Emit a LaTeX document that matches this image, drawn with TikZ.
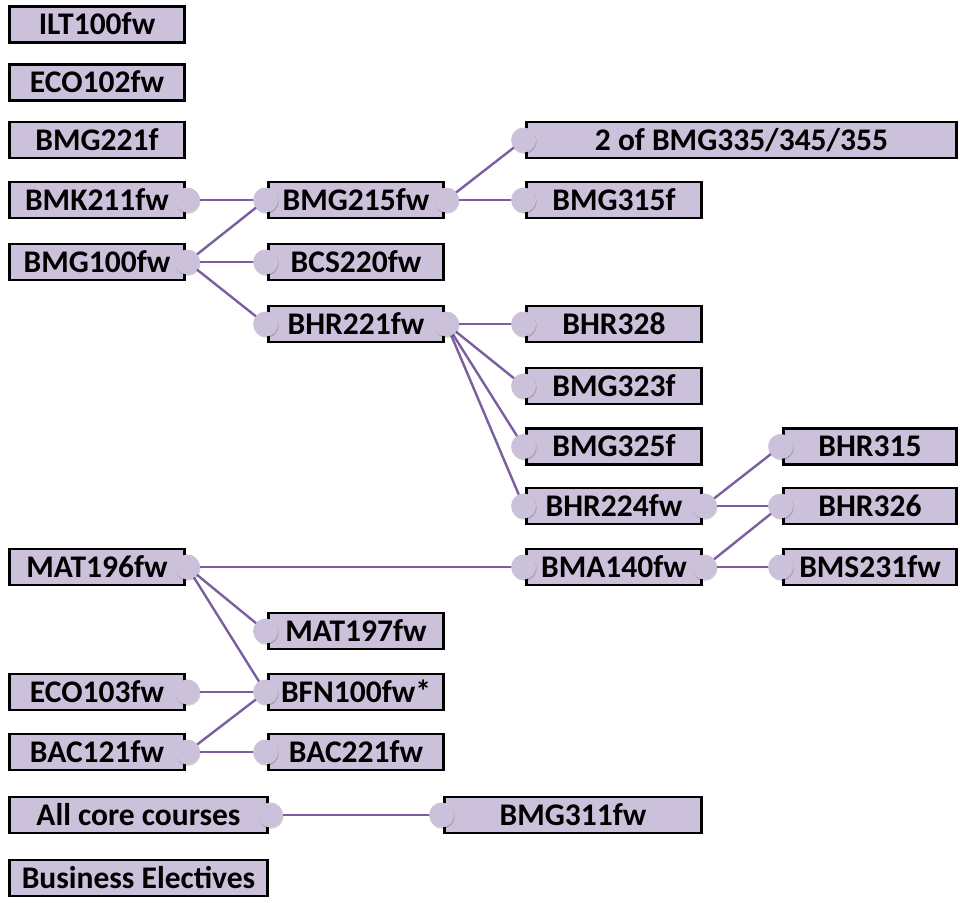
\documentclass[tikz,border=0pt]{standalone}
\usepackage{fontspec}
\setmainfont{Carlito}
\definecolor{boxfill}{RGB}{204,193,218}
\definecolor{linkcol}{RGB}{122,94,160}
\pgfdeclarelayer{bg}
\pgfsetlayers{bg,main}
\begin{document}
\begin{tikzpicture}[x=1pt,y=-1pt,
  font=\fontsize{31.5}{36}\selectfont\bfseries,
  course/.style={draw=black, line width=2.8pt, fill=boxfill, minimum height=36pt,
    inner sep=0pt, text height=20pt, text depth=0pt},
  cA/.style={course, minimum width=175pt},
  cW/.style={course, minimum width=258pt},
  cB/.style={course, minimum width=175pt},
  cC/.style={course, minimum width=175pt},
  cD/.style={course, minimum width=173pt},
  dot/.style={circle, fill=boxfill, minimum size=25pt, inner sep=0pt,
    preaction={fill=black, opacity=0.18, transform canvas={shift={(0.6pt,-1.3pt)}}}},
  link/.style={draw=linkcol, line width=2.4pt}]
\useasboundingbox (0,0) rectangle (960,902);

% column 1
\node[cA] (ilt)    at (97,24.5) {ILT100fw};
\node[cA] (eco102) at (97,82.5) {ECO102fw};
\node[cA] (bmg221) at (97,140)  {BMG221f};
\node[cA] (bmk211) at (97,200)  {BMK211fw};
\node[cA] (bmg100) at (97,262)  {BMG100fw};
\node[cA] (mat196) at (97,567)  {MAT196fw};
\node[cA] (eco103) at (97,692)  {ECO103fw};
\node[cA] (bac121) at (97,752)  {BAC121fw};
\node[cW] (allcore) at (138.5,815) {All core courses};
\node[cW] (electives) at (138.5,878) {Business Electives};

% column 2
\node[cB] (bmg215) at (356,200) {BMG215fw};
\node[cB] (bcs220) at (356,262) {BCS220fw};
\node[cB] (bhr221) at (356,324) {BHR221fw};
\node[cB] (mat197) at (356,631) {MAT197fw};
\node[cB] (bfn100) at (356,692) {BFN100fw*};
\node[cB] (bac221) at (356,752) {BAC221fw};

% column 3
\node[course, minimum width=430pt] (twoof) at (741.5,140) {2 of BMG335/345/355};
\node[cC] (bmg315) at (614,200) {BMG315f};
\node[cC] (bhr328) at (614,324) {BHR328};
\node[cC] (bmg323) at (614,386) {BMG323f};
\node[cC] (bmg325) at (614,446.5) {BMG325f};
\node[cC] (bhr224) at (614,506) {BHR224fw};
\node[cC] (bma140) at (614,567) {BMA140fw};
\node[course, minimum width=257pt] (bmg311) at (573,815) {BMG311fw};

% column 4
\node[cD] (bhr315) at (870,446.5) {BHR315};
\node[cD] (bhr326) at (870,506) {BHR326};
\node[cD] (bms231) at (870,567) {BMS231fw};

% connector dots
\foreach \n in {bmk211,bmg100,bmg215,bhr221,bhr224,bma140,mat196,eco103,bac121,allcore}
  \node[dot] (\n-R) at ([xshift=1.5pt]\n.east) {};
\foreach \n in {bmg215,bcs220,bhr221,twoof,bmg315,bhr328,bmg323,bmg325,bhr224,bma140,bhr315,bhr326,bms231,mat197,bfn100,bac221,bmg311}
  \node[dot] (\n-L) at ([xshift=-1.5pt]\n.west) {};

% connectors
\begin{pgfonlayer}{bg}
\draw[link] (bmk211-R.center) -- (bmg215-L.center);
\draw[link] (bmg100-R.center) -- (bmg215-L.center);
\draw[link] (bmg100-R.center) -- (bcs220-L.center);
\draw[link] (bmg100-R.center) -- (bhr221-L.center);
\draw[link] (bmg215-R.center) -- (twoof-L.center);
\draw[link] (bmg215-R.center) -- (bmg315-L.center);
\draw[link] (bhr221-R.center) -- (bhr328-L.center);
\draw[link] (bhr221-R.center) -- (bmg323-L.center);
\draw[link] (bhr221-R.center) -- (bmg325-L.center);
\draw[link] (bhr221-R.center) -- (bhr224-L.center);
\draw[link] (bhr224-R.center) -- (bhr315-L.center);
\draw[link] (bhr224-R.center) -- (bhr326-L.center);
\draw[link] (bma140-R.center) -- (bhr326-L.center);
\draw[link] (bma140-R.center) -- (bms231-L.center);
\draw[link] (mat196-R.center) -- (bma140-L.center);
\draw[link] (mat196-R.center) -- (mat197-L.center);
\draw[link] (mat196-R.center) -- (bfn100-L.center);
\draw[link] (eco103-R.center) -- (bfn100-L.center);
\draw[link] (bac121-R.center) -- (bfn100-L.center);
\draw[link] (bac121-R.center) -- (bac221-L.center);
\draw[link] (allcore-R.center) -- (bmg311-L.center);
\end{pgfonlayer}
\end{tikzpicture}
\end{document}
